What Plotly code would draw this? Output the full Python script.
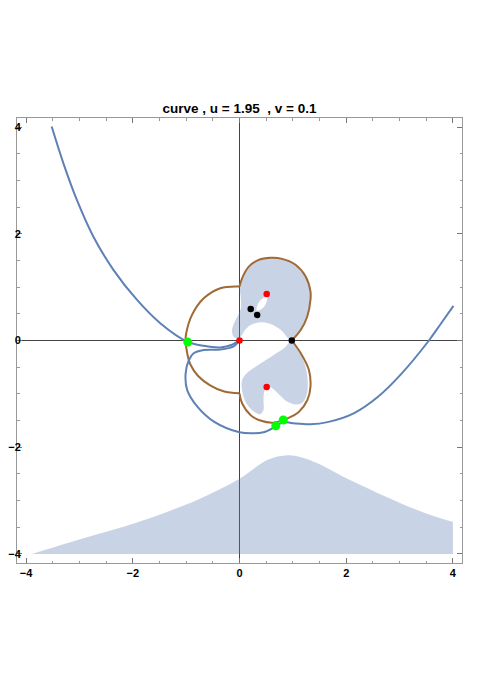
import plotly.graph_objects as go

# blue curve, first branch (top left down to the cusp at the origin)
blue_a_x = [-3.52, -3.30, -3.05, -2.74, -2.36, -1.92, -1.48, -0.98, -0.67, -0.36, -0.14, -0.04, 0.0]
blue_a_y = [4.01, 3.32, 2.64, 1.95, 1.32, 0.76, 0.32, -0.02, -0.10, -0.13, -0.08, -0.02, 0.0]

# blue curve, second branch (origin, loop round the left, out to the right)
blue_b_x = [0.0, -0.11, -0.36, -0.67, -0.86, -0.95, -1.01, -0.98, -0.79, -0.48, 0.0, 0.25,
            0.45, 0.68, 0.82, 1.0, 1.33, 1.65, 2.15, 2.59, 3.02, 3.55, 3.77, 4.01]
blue_b_y = [0.0, -0.11, -0.17, -0.18, -0.24, -0.37, -0.62, -0.93, -1.24, -1.52, -1.72, -1.74,
            -1.72, -1.61, -1.53, -1.55, -1.57, -1.53, -1.36, -1.06, -0.64, 0.0, 0.31, 0.65]

# brown curve in three arcs
brown_left_x = [0.0, -0.36, -0.67, -0.89, -1.0, -1.01, -0.98, -0.92, -0.78, -0.55, -0.3, 0.0]
brown_left_y = [1.01, 0.98, 0.79, 0.48, 0.13, 0.0, -0.24, -0.45, -0.66, -0.84, -0.95, -0.99]
brown_low_x = [0.0, 0.05, 0.21, 0.39, 0.64, 0.90, 1.11, 1.27, 1.33, 1.30, 1.15, 0.98]
brown_low_y = [-0.99, -1.18, -1.40, -1.50, -1.54, -1.46, -1.34, -1.12, -0.87, -0.55, -0.24, 0.0]
brown_up_x = [0.98, 1.15, 1.27, 1.33, 1.33, 1.24, 1.05, 0.80, 0.58, 0.36, 0.17, 0.05, 0.0]
brown_up_y = [0.0, 0.2, 0.45, 0.76, 0.92, 1.20, 1.42, 1.53, 1.55, 1.51, 1.38, 1.17, 1.01]

# shaded regions
upper_x = [0.98, 1.15, 1.27, 1.33, 1.33, 1.24, 1.05, 0.80, 0.58, 0.36, 0.17, 0.05, 0.0,
           0.02, 0.03, 0.02, -0.04, -0.10, -0.14, -0.12, -0.05, 0.03, 0.10, 0.21, 0.39, 0.58, 0.77, 0.98]
upper_y = [0.0, 0.2, 0.45, 0.76, 0.92, 1.20, 1.42, 1.53, 1.55, 1.51, 1.38, 1.17, 1.0,
           0.85, 0.70, 0.58, 0.45, 0.33, 0.20, 0.09, 0.04, 0.08, 0.19, 0.29, 0.34, 0.31, 0.20, 0.0]
hole_x = [0.32, 0.335, 0.37, 0.44, 0.52, 0.505, 0.47, 0.40, 0.32]
hole_y = [0.56, 0.66, 0.725, 0.79, 0.81, 0.72, 0.645, 0.58, 0.56]
lower_x = [0.98, 1.13, 1.24, 1.28, 1.25, 1.17, 1.05, 0.90, 0.75, 0.62, 0.54, 0.47, 0.45,
           0.45, 0.39, 0.28, 0.13, 0.05, 0.05, 0.15, 0.38, 0.64, 0.85, 0.98]
lower_y = [0.0, -0.22, -0.50, -0.80, -1.05, -1.17, -1.20, -1.15, -1.02, -0.90, -0.87, -0.94, -1.12,
           -1.30, -1.38, -1.34, -1.18, -0.95, -0.74, -0.60, -0.44, -0.27, -0.13, 0.0]
bottom_x = [-3.89, -3.0, -1.98, -1.3, -0.73, 0.0, 0.52, 0.9, 1.2, 1.46, 2.08, 3.02, 3.5, 4.0]
bottom_y = [-4.0, -3.73, -3.43, -3.19, -2.96, -2.59, -2.24, -2.15, -2.2, -2.30, -2.62, -3.05, -3.24, -3.40]
bottom_base = -4.0

# marked points
green_x = [-0.97, 0.68, 0.82]
green_y = [-0.03, -1.60, -1.49]
red_x = [0.0, 0.51, 0.51]
red_y = [0.0, 0.87, -0.87]
black_x = [0.21, 0.33, 0.98]
black_y = [0.59, 0.48, 0.0]

BLUE = "#5e81b5"
BROWN = "#a06a35"
FILL = "rgba(94,129,181,0.34)"

fig = go.Figure()

fig.add_trace(go.Scatter(x=[bottom_x[0], bottom_x[-1]], y=[bottom_base, bottom_base],
                         mode="lines", line=dict(width=0), hoverinfo="skip"))
fig.add_trace(go.Scatter(x=bottom_x, y=bottom_y, mode="lines", fill="tonexty",
                         fillcolor=FILL, line=dict(width=0, shape="spline")))
for xs, ys in [(upper_x, upper_y), (lower_x, lower_y)]:
    fig.add_trace(go.Scatter(x=xs, y=ys, mode="lines", fill="toself", fillcolor=FILL,
                             line=dict(width=0, shape="spline")))
fig.add_trace(go.Scatter(x=hole_x, y=hole_y, mode="lines", fill="toself", fillcolor="white",
                         line=dict(width=0, shape="spline")))

for xs, ys in [(brown_left_x, brown_left_y), (brown_low_x, brown_low_y), (brown_up_x, brown_up_y)]:
    fig.add_trace(go.Scatter(x=xs, y=ys, mode="lines",
                             line=dict(color=BROWN, width=2, shape="spline")))
for xs, ys in [(blue_a_x, blue_a_y), (blue_b_x, blue_b_y)]:
    fig.add_trace(go.Scatter(x=xs, y=ys, mode="lines",
                             line=dict(color=BLUE, width=2, shape="spline")))

fig.add_trace(go.Scatter(x=green_x, y=green_y, mode="markers", marker=dict(color="#00ff00", size=9)))
fig.add_trace(go.Scatter(x=red_x, y=red_y, mode="markers", marker=dict(color="#ff0000", size=6.5)))
fig.add_trace(go.Scatter(x=black_x, y=black_y, mode="markers", marker=dict(color="black", size=6.5)))

axis_style = dict(
    range=[-4.17, 4.17],
    tickvals=[-4, -2, 0, 2, 4],
    ticks="inside", ticklen=5, tickcolor="#777",
    minor=dict(dtick=0.5, ticks="inside", ticklen=2.5, tickcolor="#999"),
    showline=True, mirror="allticks", linecolor="#999", linewidth=1,
    showgrid=False, automargin=False,
    zeroline=True, zerolinecolor="#444", zerolinewidth=1,
    tickfont=dict(family="Liberation Sans", size=11, color="black", weight="bold"),
)

# the page body adds 8px, so margins are shifted to keep the frame where it belongs
fig.update_layout(
    width=485, height=686,
    margin=dict(l=9, r=31, t=110, b=131),
    paper_bgcolor="white", plot_bgcolor="white",
    showlegend=False,
    title=dict(text="curve , u = 1.95  , v = 0.1", xref="paper", x=0.5, xanchor="center",
               y=1 - 100 / 686, yanchor="middle",
               font=dict(family="Liberation Sans", size=13.5, color="black", weight="bold")),
    xaxis=axis_style,
    yaxis=dict(axis_style, ticklabelstandoff=-7),
)

fig.write_html("out.html")
